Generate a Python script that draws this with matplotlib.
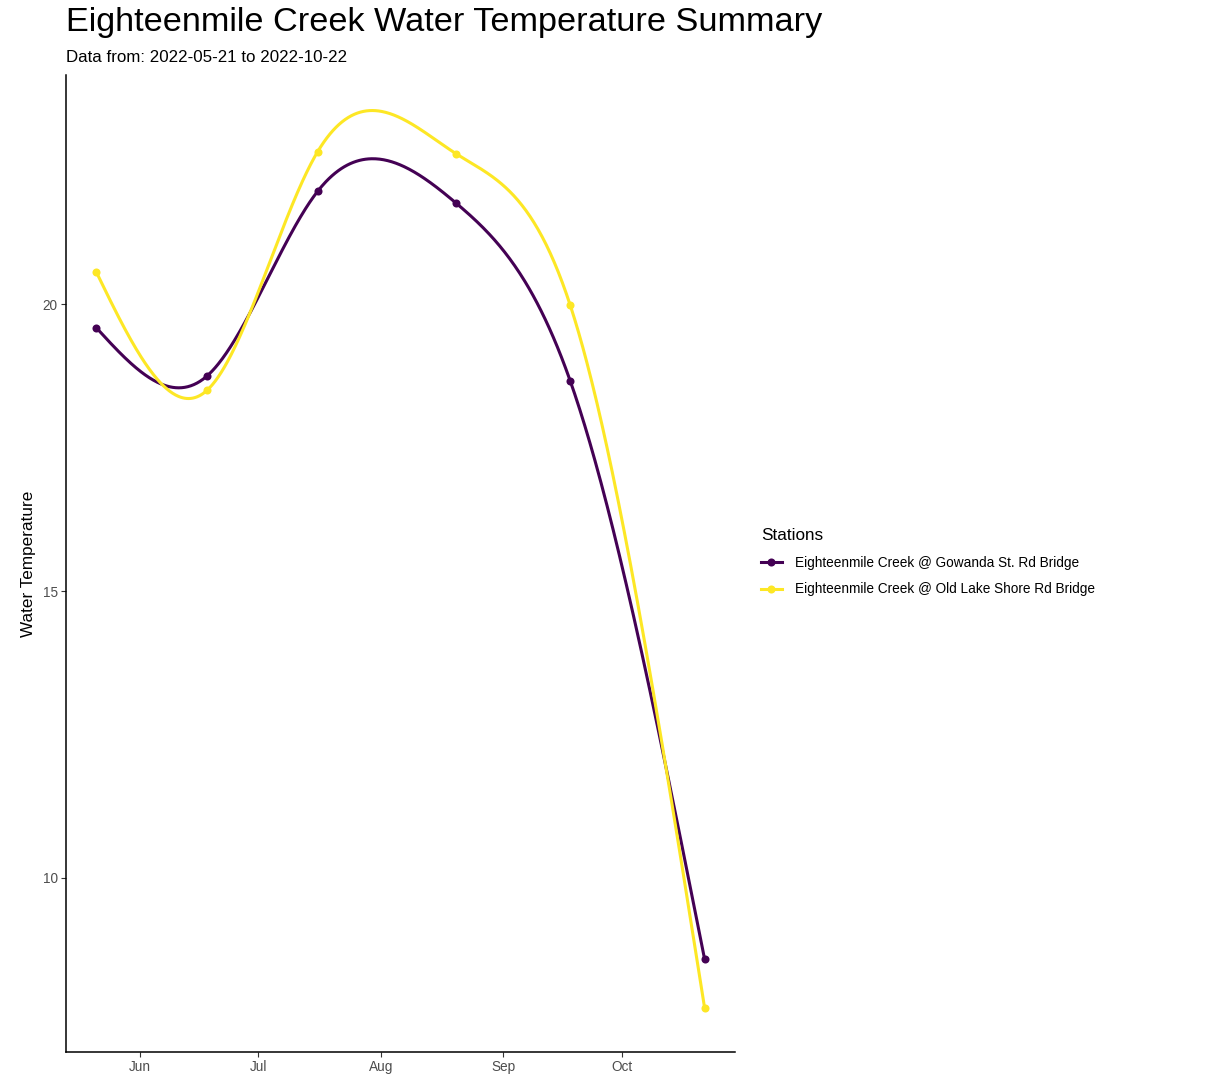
import numpy as np
import matplotlib
matplotlib.use("Agg")
import matplotlib.pyplot as plt
import matplotlib.dates as mdates
from matplotlib.lines import Line2D
import datetime as dt

plt.rcParams['font.family'] = ['Liberation Sans', 'DejaVu Sans']

dates = ["2022-05-21", "2022-06-18", "2022-07-16", "2022-08-20", "2022-09-18", "2022-10-22"]
stations = ["Eighteenmile Creek @ Gowanda St. Rd Bridge",
            "Eighteenmile Creek @ Old Lake Shore Rd Bridge"]
gowanda = [19.59, 18.75, 21.97, 21.77, 18.66, 8.58]
old_lake = [20.56, 18.50, 22.66, 22.63, 19.98, 7.73]
colors = ["#440154", "#FDE725"]

x = mdates.date2num([dt.datetime.strptime(d, "%Y-%m-%d") for d in dates])


def natural_spline(xs, ys, n=600):
    xs = np.asarray(xs, float)
    ys = np.asarray(ys, float)
    m = len(xs)
    h = np.diff(xs)
    dl = np.diff(ys) / h
    A = np.zeros((m, m))
    b = np.zeros(m)
    A[0, 0] = 1
    A[-1, -1] = 1
    for i in range(1, m - 1):
        A[i, i - 1] = h[i - 1]
        A[i, i] = 2 * (h[i - 1] + h[i])
        A[i, i + 1] = h[i]
        b[i] = 6 * (dl[i] - dl[i - 1])
    M = np.linalg.solve(A, b)
    xx = np.linspace(xs[0], xs[-1], n)
    idx = np.clip(np.searchsorted(xs, xx, side='right') - 1, 0, m - 2)
    a = xs[idx + 1] - xx
    bb = xx - xs[idx]
    hh = h[idx]
    yy = ((M[idx] * a**3 + M[idx + 1] * bb**3) / (6 * hh)
          + (ys[idx] / hh - M[idx] * hh / 6) * a
          + (ys[idx + 1] / hh - M[idx + 1] * hh / 6) * bb)
    return xx, yy


W, H = 1211, 1074
fig = plt.figure(figsize=(W / 100, H / 100), dpi=100)
ax = fig.add_axes([66 / W, 1 - 1052 / H, (735 - 66) / W, (1052 - 75) / H])

for vals, c in zip([gowanda, old_lake], colors):
    sx, sy = natural_spline(x, vals)
    ax.plot(sx, sy, color=c, lw=2.2, solid_capstyle='butt')
    ax.plot(x, vals, 'o', color=c, ms=5.8, mec='none')

ax.margins(x=0.05)
ax.set_ylim(6.96, 24.0)
ax.xaxis.set_major_locator(mdates.MonthLocator())
ax.xaxis.set_major_formatter(mdates.DateFormatter("%b"))
ax.set_yticks([10, 15, 20])
for s in ['top', 'right']:
    ax.spines[s].set_visible(False)
for s in ['left', 'bottom']:
    ax.spines[s].set_linewidth(1.1)
ax.tick_params(axis='both', length=3.5, width=0.8, color='#333333',
               labelcolor='#4D4D4D', labelsize=9.8, pad=2.5)
ax.set_ylabel("Water Temperature", fontsize=12.3, labelpad=5)

fig.text(66 / W, 1 - 23 / H, "Eighteenmile Creek Water Temperature Summary",
         fontsize=24.7, va='center', ha='left')
fig.text(66 / W, 1 - 57 / H, "Data from: 2022-05-21 to 2022-10-22",
         fontsize=12.2, va='center', ha='left')

handles = [Line2D([0], [0], color=c, lw=2.2, marker='o', ms=5.8, mec='none')
           for c in colors]
leg = fig.legend(handles, stations, loc='center left',
                 bbox_to_anchor=(749 / W, 1 - 562 / H), frameon=False,
                 title="Stations", fontsize=9.8, title_fontsize=12.3,
                 handlelength=1.5, handletextpad=1.0, labelspacing=0.95)
leg._legend_box.align = "left"

fig.savefig("out.png", dpi=100)
